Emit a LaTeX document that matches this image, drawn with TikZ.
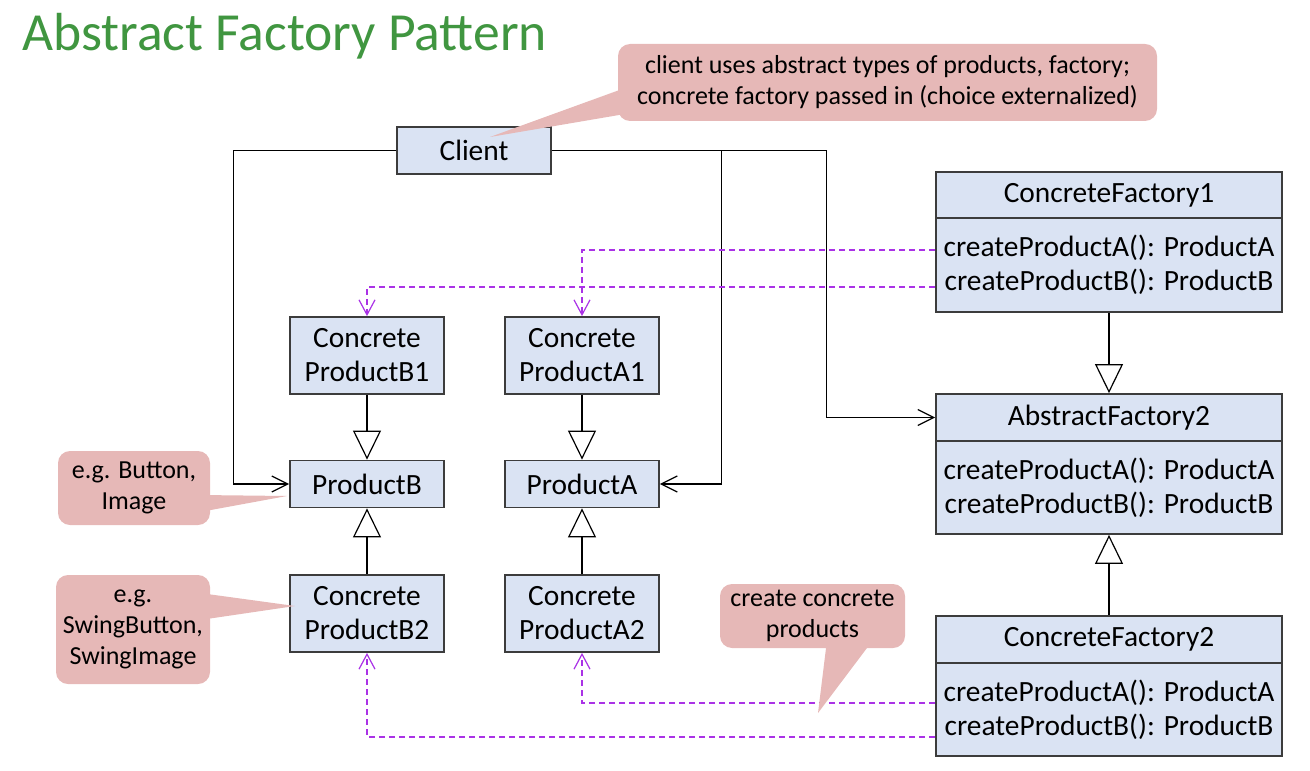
\documentclass[tikz,border=0pt]{standalone}
\usepackage{fontspec}
\setmainfont{Carlito}
\usetikzlibrary{arrows.meta}
\definecolor{boxfill}{RGB}{218,227,243}
\definecolor{boxline}{RGB}{60,60,60}
\definecolor{notefill}{RGB}{230,184,183}
\definecolor{depcol}{RGB}{170,50,230}
\definecolor{titlegreen}{RGB}{64,150,64}
\begin{document}
\begin{tikzpicture}[x=0.5pt,y=-0.5pt,
  cls/.style={draw=boxline, fill=boxfill, line width=0.9pt, inner sep=0pt, align=center,
    font=\fontsize{14.7}{17}\selectfont, minimum width=77pt},
  fac/.style={cls, minimum width=173pt},
  note/.style={fill=notefill, rounded corners=6pt, inner sep=0pt, align=center,
    font=\fontsize{13}{15.5}\selectfont},
  tailfill/.style={fill=notefill},
  assoc/.style={draw=black, line width=0.6pt, -{Straight Barb[length=8pt,width=8pt]}},
  inh/.style={draw=black, line width=0.6pt, -{Triangle[open,length=14.5pt,width=14pt,fill=white]}},
  depline/.style={draw=depcol, line width=0.6pt, dash pattern=on 3pt off 2pt, -{Straight Barb[length=7.5pt,width=8pt]}}]
\useasboundingbox (0,0) rectangle (1310,770);

% title
\node[anchor=base west, inner sep=0pt, font=\fontsize{26.8}{30}\selectfont, text=titlegreen] (title) at (22,51) {Abstract Factory Pattern};

% client
\node[cls, minimum height=23.5pt] (client) at (474,150.5) {Client};

% products
\node[cls, minimum height=38.5pt] (b1) at (367,355.5) {Concrete\\ProductB1};
\node[cls, minimum height=38.5pt] (a1) at (582,355.5) {Concrete\\ProductA1};
\node[cls, minimum height=23.5pt] (pb) at (367,484) {ProductB};
\node[cls, minimum height=23.5pt] (pa) at (582,484) {ProductA};
\node[cls, minimum height=38.5pt] (b2) at (367,613.5) {Concrete\\ProductB2};
\node[cls, minimum height=38.5pt] (a2) at (582,613.5) {Concrete\\ProductA2};

% factories
\node[fac, minimum height=23pt] (cf1h) at (1109,195) {ConcreteFactory1};
\node[fac, minimum height=47pt] (cf1b) at (1109,265) {createProductA(): ProductA\\createProductB(): ProductB};
\node[fac, minimum height=23.5pt] (af2h) at (1109,417.5) {AbstractFactory2};
\node[fac, minimum height=46.5pt] (af2b) at (1109,487.5) {createProductA(): ProductA\\createProductB(): ProductB};
\node[fac, minimum height=23.5pt] (cf2h) at (1109,639.5) {ConcreteFactory2};
\node[fac, minimum height=46.5pt] (cf2b) at (1109,709.5) {createProductA(): ProductA\\createProductB(): ProductB};

% client associations
\draw[assoc] (client.west) -| ([xshift=-28pt]pb.west) -- (pb.west);
\draw[assoc] (client.east) -| ([xshift=30.75pt]pa.east) -- (pa.east);
\draw[assoc] (client.east) -| ([xshift=-54.5pt]af2h.west) -- (af2h.west);

% inheritance
\draw[inh] (b1.south) -- (pb.north);
\draw[inh] (a1.south) -- (pa.north);
\draw[inh] (b2.north) -- (pb.south);
\draw[inh] (a2.north) -- (pa.south);
\draw[inh] (cf1b.south) -- (af2h.north);
\draw[inh] (cf2h.north) -- (af2b.south);

% dependencies (create)
\draw[depline] ([yshift=7.5pt]cf1b.west) -| (a1.north);
\draw[depline] ([yshift=-11pt]cf1b.west) -| (b1.north);
\draw[depline] ([yshift=3.25pt]cf2b.west) -| (a2.south);
\draw[depline] ([yshift=-13.75pt]cf2b.west) -| (b2.south);

% callouts
\fill[tailfill] (625,88) -- (490,137) -- (625,114) -- cycle;
\node[note, minimum width=269.5pt, minimum height=38.5pt] (n1) at (887.5,82.5)
  {client uses abstract types of products, factory;\\concrete factory passed in (choice externalized)};

\fill[tailfill] (200,495) -- (287,496) -- (200,512) -- cycle;
\node[note, minimum width=76pt, minimum height=37pt] (n2) at (134,488) {e.g. Button,\\Image};

\fill[tailfill] (200,593) -- (295,606) -- (200,620) -- cycle;
\node[note, minimum width=77pt, minimum height=54.5pt] (n3) at (133,629.5) {e.g.\\SwingButton,\\SwingImage};

\fill[tailfill] (827,640) -- (818,713) -- (873,640) -- cycle;
\node[note, minimum width=92.5pt, minimum height=32pt] (n4) at (812.5,616) {create concrete\\products};
\end{tikzpicture}
\end{document}
